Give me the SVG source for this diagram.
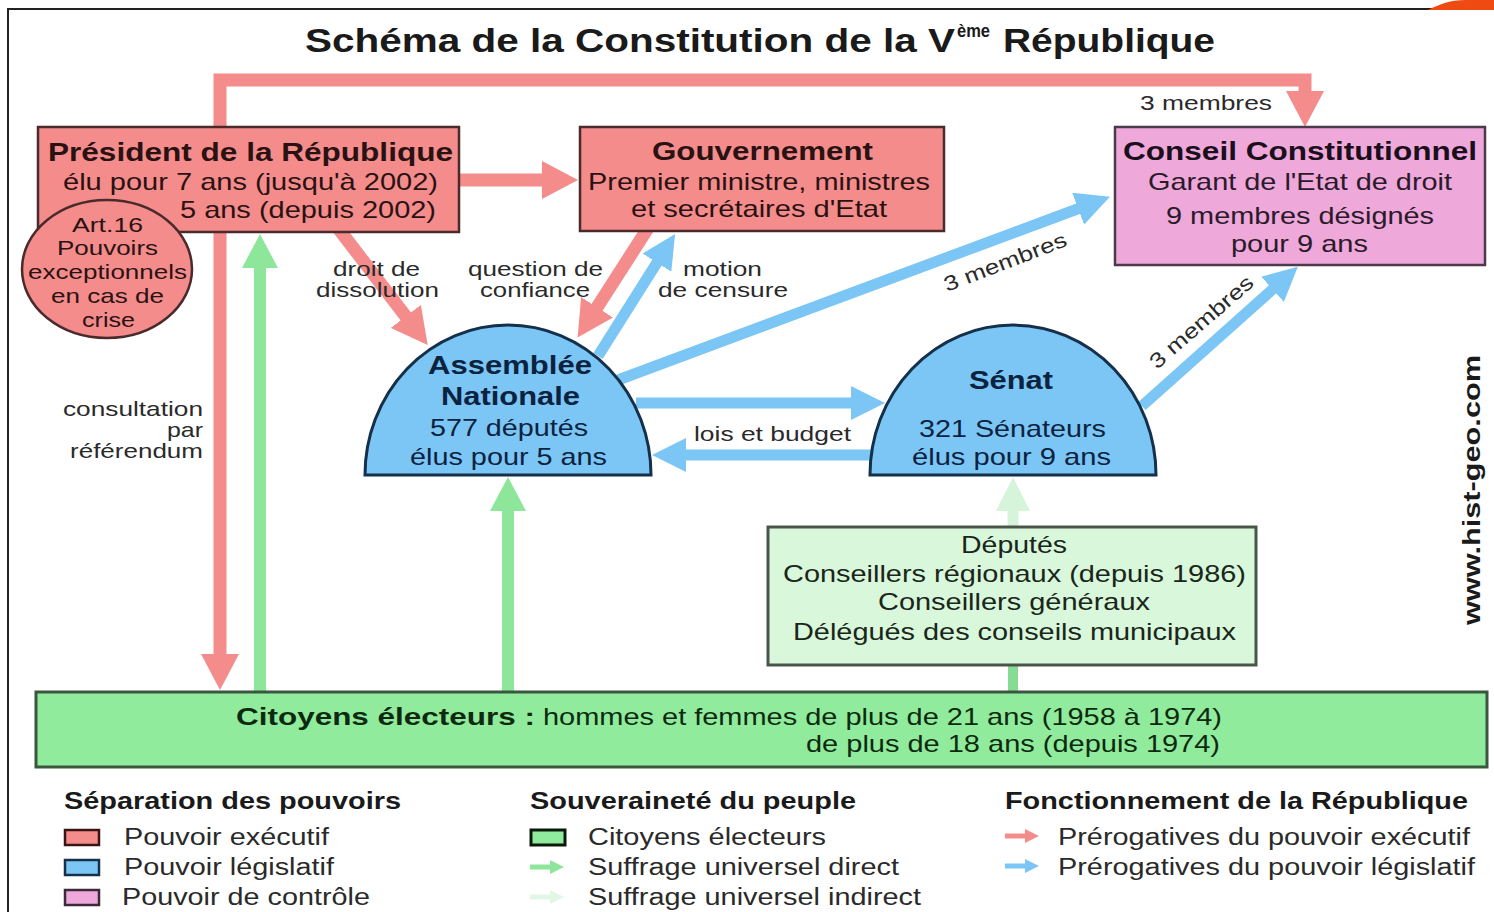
<svg xmlns="http://www.w3.org/2000/svg" width="1494" height="912" viewBox="0 0 1494 912">
<style>
text{font-family:"Liberation Sans",Arial,sans-serif;lengthAdjust:spacingAndGlyphs}
.b{font-weight:bold}
.t{font-size:26px}
.m{font-size:24px}
.s{font-size:21px}
.dk{fill:#2a1212}
.nv{fill:#0b2340}
.gr{fill:#0d2a10}
.lb{fill:#2a2a2a}
.red{fill:#F48C8C;stroke:#4a2a2a;stroke-width:2.5}
.blue{fill:#7CC6F6;stroke:#14304a;stroke-width:3}
.pink{fill:#EFA8DA;stroke:#4a3a4a;stroke-width:2.5}
.lr{fill:none;stroke:#F48C8C;stroke-width:13}
.lbl{fill:none;stroke:#7CC6F6;stroke-width:11}
.lg{fill:none;stroke:#8DE69A;stroke-width:12}
.llg{fill:none;stroke:#D6F4DA;stroke-width:11}
</style>
<defs>
<marker id="ar" markerUnits="userSpaceOnUse" markerWidth="36" markerHeight="38" viewBox="0 0 36 38" refX="2" refY="19" orient="auto-start-reverse"><path d="M0,0 L36,19 L0,38 z" fill="#F48C8C"/></marker>
<marker id="ab" markerUnits="userSpaceOnUse" markerWidth="34" markerHeight="34" viewBox="0 0 34 34" refX="2" refY="17" orient="auto"><path d="M0,0 L34,17 L0,34 z" fill="#7CC6F6"/></marker>
<marker id="ag" markerUnits="userSpaceOnUse" markerWidth="36" markerHeight="36" viewBox="0 0 34 36" refX="2" refY="18" orient="auto"><path d="M0,0 L34,18 L0,36 z" fill="#8DE69A"/></marker>
<marker id="alg" markerUnits="userSpaceOnUse" markerWidth="34" markerHeight="34" viewBox="0 0 34 34" refX="2" refY="17" orient="auto"><path d="M0,0 L34,17 L0,34 z" fill="#D6F4DA"/></marker>
<marker id="sr" markerUnits="userSpaceOnUse" markerWidth="14" markerHeight="14" viewBox="0 0 14 14" refX="1" refY="7" orient="auto"><path d="M0,0 L14,7 L0,14 z" fill="#F48C8C"/></marker>
<marker id="sb" markerUnits="userSpaceOnUse" markerWidth="14" markerHeight="14" viewBox="0 0 14 14" refX="1" refY="7" orient="auto"><path d="M0,0 L14,7 L0,14 z" fill="#7CC6F6"/></marker>
<marker id="sg" markerUnits="userSpaceOnUse" markerWidth="14" markerHeight="14" viewBox="0 0 14 14" refX="1" refY="7" orient="auto"><path d="M0,0 L14,7 L0,14 z" fill="#8DE69A"/></marker>
<marker id="slg" markerUnits="userSpaceOnUse" markerWidth="14" markerHeight="14" viewBox="0 0 14 14" refX="1" refY="7" orient="auto"><path d="M0,0 L14,7 L0,14 z" fill="#E2F6E5"/></marker>
</defs>
<rect width="1494" height="912" fill="#ffffff"/>
<path d="M8,912 V9 H1494" fill="none" stroke="#222" stroke-width="2"/>
<path d="M1428,10 C1440,4 1450,0 1466,0 L1494,0 L1494,10 Z" fill="#EE4A12"/>

<g id="title">
<text class="b" x="305" y="52" font-size="34" fill="#1a1a1a" textLength="650" lengthAdjust="spacingAndGlyphs">Schéma de la Constitution de la V</text>
<text class="b" x="957" y="37" font-size="19" fill="#1a1a1a" textLength="33" lengthAdjust="spacingAndGlyphs">ème</text>
<text class="b" x="1003" y="52" font-size="34" fill="#1a1a1a" textLength="212" lengthAdjust="spacingAndGlyphs">République</text>
</g>

<g id="connectors">
<path class="lr" d="M220,656 V80 H1305 V93" marker-start="url(#ar)" marker-end="url(#ar)"/>
<path class="lr" d="M459,180 H544" marker-end="url(#ar)"/>
<path class="lg" d="M260,692 V266" marker-end="url(#ag)"/>
<path class="lr" d="M338,228 L407,318" marker-end="url(#ar)"/>
<path class="lr" d="M648,228 L596,309" marker-end="url(#ar)"/>
<path class="lbl" d="M598,356 L658,261" marker-end="url(#ab)"/>
<path class="lbl" d="M618,380 L1080,208" marker-end="url(#ab)"/>
<path class="lbl" d="M1142,406 L1274,288" marker-end="url(#ab)"/>
<path class="lbl" d="M636,403 H853" marker-end="url(#ab)"/>
<path class="lbl" d="M872,455 H684" marker-end="url(#ab)"/>
<path class="lg" d="M508,692 V509" marker-end="url(#ag)"/>
<path class="llg" d="M1013,527 V509" marker-end="url(#alg)"/>
<path fill="none" stroke="#86DC94" stroke-width="10" d="M1013,692 V665"/>
<text class="s lb" x="1140" y="110" textLength="132" lengthAdjust="spacingAndGlyphs">3 membres</text>
<text class="s lb" x="0" y="0" transform="translate(947,292) rotate(-21)" textLength="130" lengthAdjust="spacingAndGlyphs">3 membres</text>
<text class="s lb" x="0" y="0" transform="translate(1157,370) rotate(-41)" textLength="130" lengthAdjust="spacingAndGlyphs">3 membres</text>
<text class="s lb" x="333" y="276" textLength="87" lengthAdjust="spacingAndGlyphs">droit de</text>
<text class="s lb" x="316" y="297" textLength="123" lengthAdjust="spacingAndGlyphs">dissolution</text>
<text class="s lb" x="468" y="276" textLength="135" lengthAdjust="spacingAndGlyphs">question de</text>
<text class="s lb" x="480" y="297" textLength="110" lengthAdjust="spacingAndGlyphs">confiance</text>
<text class="s lb" x="683" y="276" textLength="79" lengthAdjust="spacingAndGlyphs">motion</text>
<text class="s lb" x="658" y="297" textLength="130" lengthAdjust="spacingAndGlyphs">de censure</text>
<text class="s lb" x="63" y="416" textLength="140" lengthAdjust="spacingAndGlyphs">consultation</text>
<text class="s lb" x="167" y="437" textLength="36" lengthAdjust="spacingAndGlyphs">par</text>
<text class="s lb" x="70" y="458" textLength="133" lengthAdjust="spacingAndGlyphs">référendum</text>
<text class="s lb" x="694" y="441" textLength="157" lengthAdjust="spacingAndGlyphs">lois et budget</text>
</g>

<g id="president">
<rect class="red" x="38" y="127" width="421" height="105"/>
<text class="b t dk" x="48" y="161" textLength="405" lengthAdjust="spacingAndGlyphs">Président de la République</text>
<text class="m dk" x="63" y="190" textLength="375" lengthAdjust="spacingAndGlyphs">élu pour 7 ans (jusqu'à 2002)</text>
<text class="m dk" x="180" y="218" textLength="256" lengthAdjust="spacingAndGlyphs">5 ans (depuis 2002)</text>
</g>

<g id="art16">
<ellipse class="red" cx="107" cy="269" rx="85" ry="69"/>
<text class="s dk" x="72" y="232" textLength="71" lengthAdjust="spacingAndGlyphs">Art.16</text>
<text class="s dk" x="57" y="255" textLength="101" lengthAdjust="spacingAndGlyphs">Pouvoirs</text>
<text class="s dk" x="28" y="279" textLength="159" lengthAdjust="spacingAndGlyphs">exceptionnels</text>
<text class="s dk" x="51" y="303" textLength="113" lengthAdjust="spacingAndGlyphs">en cas de</text>
<text class="s dk" x="82" y="327" textLength="53" lengthAdjust="spacingAndGlyphs">crise</text>
</g>

<g id="gouvernement">
<rect class="red" x="580" y="127" width="364" height="104"/>
<text class="b t dk" x="652" y="160" textLength="221" lengthAdjust="spacingAndGlyphs">Gouvernement</text>
<text class="m dk" x="588" y="190" textLength="342" lengthAdjust="spacingAndGlyphs">Premier ministre, ministres</text>
<text class="m dk" x="631" y="217" textLength="256" lengthAdjust="spacingAndGlyphs">et secrétaires d'Etat</text>
</g>

<g id="conseil">
<rect class="pink" x="1115" y="127" width="370" height="138"/>
<text class="b t" fill="#1a0f1a" x="1123" y="160" textLength="354" lengthAdjust="spacingAndGlyphs">Conseil Constitutionnel</text>
<text class="m" fill="#2a1a2a" x="1148" y="190" textLength="304" lengthAdjust="spacingAndGlyphs">Garant de l'Etat de droit</text>
<text class="m" fill="#2a1a2a" x="1166" y="224" textLength="268" lengthAdjust="spacingAndGlyphs">9 membres désignés</text>
<text class="m" fill="#2a1a2a" x="1231" y="252" textLength="137" lengthAdjust="spacingAndGlyphs">pour 9 ans</text>
</g>

<g id="assemblee">
<path class="blue" d="M365,475 A143,150 0 0 1 651,475 Z"/>
<text class="b t nv" x="428" y="374" textLength="164" lengthAdjust="spacingAndGlyphs">Assemblée</text>
<text class="b t nv" x="441" y="405" textLength="139" lengthAdjust="spacingAndGlyphs">Nationale</text>
<text class="m nv" x="430" y="436" textLength="158" lengthAdjust="spacingAndGlyphs">577 députés</text>
<text class="m nv" x="410" y="465" textLength="197" lengthAdjust="spacingAndGlyphs">élus pour 5 ans</text>
</g>

<g id="senat">
<path class="blue" d="M870,475 A143,150 0 0 1 1156,475 Z"/>
<text class="b t nv" x="969" y="389" textLength="84" lengthAdjust="spacingAndGlyphs">Sénat</text>
<text class="m nv" x="919" y="437" textLength="187" lengthAdjust="spacingAndGlyphs">321 Sénateurs</text>
<text class="m nv" x="912" y="465" textLength="199" lengthAdjust="spacingAndGlyphs">élus pour 9 ans</text>
</g>

<g id="deputes">
<rect x="768" y="527" width="488" height="138" fill="#D8F7DB" stroke="#4a564a" stroke-width="3"/>
<text class="m" fill="#1a261a" x="961" y="553" textLength="106" lengthAdjust="spacingAndGlyphs">Députés</text>
<text class="m" fill="#1a261a" x="783" y="582" textLength="463" lengthAdjust="spacingAndGlyphs">Conseillers régionaux (depuis 1986)</text>
<text class="m" fill="#1a261a" x="878" y="610" textLength="272" lengthAdjust="spacingAndGlyphs">Conseillers généraux</text>
<text class="m" fill="#1a261a" x="793" y="640" textLength="443" lengthAdjust="spacingAndGlyphs">Délégués des conseils municipaux</text>
</g>

<g id="citoyens">
<rect x="36" y="692" width="1451" height="75" fill="#90EC9C" stroke="#3a563e" stroke-width="3"/>
<text class="b m gr" x="236" y="725" textLength="299" lengthAdjust="spacingAndGlyphs">Citoyens électeurs :</text>
<text class="m gr" x="543" y="725" textLength="679" lengthAdjust="spacingAndGlyphs">hommes et femmes de plus de 21 ans (1958 à 1974)</text>
<text class="m gr" x="806" y="752" textLength="414" lengthAdjust="spacingAndGlyphs">de plus de 18 ans (depuis 1974)</text>
</g>

<g id="watermark">
<text class="b" font-size="24" fill="#1a1a1a" transform="translate(1480,625) rotate(-90)" x="0" y="0" textLength="270" lengthAdjust="spacingAndGlyphs">www.hist-geo.com</text>
</g>

<g id="legend">
<text class="b" font-size="23" fill="#1a1a1a" x="64" y="809" textLength="337" lengthAdjust="spacingAndGlyphs">Séparation des pouvoirs</text>
<rect x="65" y="830" width="34" height="15" fill="#F48C8C" stroke="#3a1414" stroke-width="2.5"/>
<text font-size="23" fill="#2a2a2a" x="124" y="845" textLength="205" lengthAdjust="spacingAndGlyphs">Pouvoir exécutif</text>
<rect x="65" y="860" width="34" height="15" fill="#7CC6F6" stroke="#14304a" stroke-width="2.5"/>
<text font-size="23" fill="#2a2a2a" x="124" y="875" textLength="210" lengthAdjust="spacingAndGlyphs">Pouvoir législatif</text>
<rect x="65" y="890" width="34" height="15" fill="#EFA8DA" stroke="#3a2a3a" stroke-width="2.5"/>
<text font-size="23" fill="#2a2a2a" x="122" y="905" textLength="248" lengthAdjust="spacingAndGlyphs">Pouvoir de contrôle</text>

<text class="b" font-size="23" fill="#1a1a1a" x="530" y="809" textLength="326" lengthAdjust="spacingAndGlyphs">Souveraineté du peuple</text>
<rect x="531" y="830" width="34" height="15" fill="#90EC9C" stroke="#0a1a0a" stroke-width="3"/>
<text font-size="23" fill="#2a2a2a" x="588" y="845" textLength="238" lengthAdjust="spacingAndGlyphs">Citoyens électeurs</text>
<path d="M530,867 H551" stroke="#8DE69A" stroke-width="5" marker-end="url(#sg)"/>
<text font-size="23" fill="#2a2a2a" x="588" y="875" textLength="311" lengthAdjust="spacingAndGlyphs">Suffrage universel direct</text>
<path d="M530,897 H551" stroke="#E2F6E5" stroke-width="5" marker-end="url(#slg)"/>
<text font-size="23" fill="#2a2a2a" x="588" y="905" textLength="333" lengthAdjust="spacingAndGlyphs">Suffrage universel indirect</text>

<text class="b" font-size="23" fill="#1a1a1a" x="1005" y="809" textLength="463" lengthAdjust="spacingAndGlyphs">Fonctionnement de la République</text>
<path d="M1005,836 H1026" stroke="#F48C8C" stroke-width="5" marker-end="url(#sr)"/>
<text font-size="23" fill="#2a2a2a" x="1058" y="845" textLength="412" lengthAdjust="spacingAndGlyphs">Prérogatives du pouvoir exécutif</text>
<path d="M1005,866 H1026" stroke="#7CC6F6" stroke-width="5" marker-end="url(#sb)"/>
<text font-size="23" fill="#2a2a2a" x="1058" y="875" textLength="417" lengthAdjust="spacingAndGlyphs">Prérogatives du pouvoir législatif</text>
</g>
</svg>
